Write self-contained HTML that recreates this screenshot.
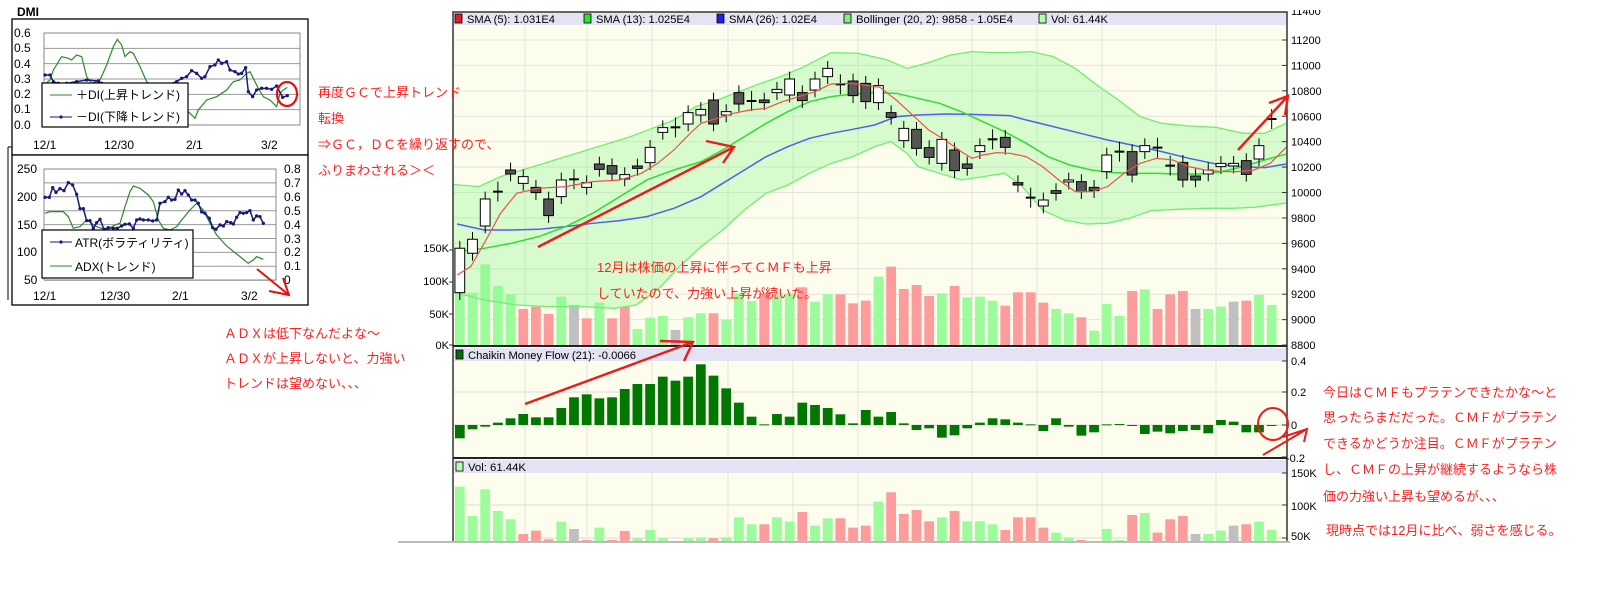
<!DOCTYPE html>
<html><head><meta charset="utf-8">
<style>
html,body{margin:0;padding:0;background:#fff;}
svg{display:block;font-family:"Liberation Sans","Noto Sans CJK JP",sans-serif;}
.r{fill:#ff2020;font-size:13px;}
.ax{font-size:11px;fill:#000;}
.dm{font-size:12px;fill:#000;}
</style></head>
<body>
<svg id="s" width="1602" height="595" viewBox="0 0 1602 595" xmlns="http://www.w3.org/2000/svg">
<defs>
<clipPath id="cm"><rect x="454" y="25" width="832" height="320"/></clipPath>
<clipPath id="cc"><rect x="454" y="361" width="832" height="96"/></clipPath>
<clipPath id="cv"><rect x="454" y="473" width="832" height="68"/></clipPath>
<clipPath id="ct"><rect x="1280" y="10" width="60" height="20"/></clipPath>
</defs>
<rect width="1602" height="595" fill="#fff"/>

<!-- ===== DMI panel ===== -->
<text x="17" y="16" style="font-size:12px;font-weight:bold">DMI</text>
<rect x="12" y="19" width="296" height="136" fill="#fff" stroke="#000" stroke-width="1.3"/>
<rect x="12" y="155" width="296" height="150" fill="#fff" stroke="#000" stroke-width="1.3"/>
<path d="M8,147 H12 M8,147 V300" stroke="#000" fill="none"/>
<g id="dmi"></g>
<g class="dm">
<text x="14" y="37">0.6</text><text x="14" y="52">0.5</text><text x="14" y="68">0.4</text><text x="14" y="83">0.3</text><text x="14" y="98">0.2</text><text x="14" y="113">0.1</text><text x="14" y="129">0.0</text>
<text x="33" y="149">12/1</text><text x="104" y="149">12/30</text><text x="186" y="149">2/1</text><text x="261" y="149">3/2</text>
<text x="17" y="173">250</text><text x="17" y="201">200</text><text x="17" y="229">150</text><text x="17" y="256">100</text><text x="24" y="284">50</text>
<text x="284" y="173">0.8</text><text x="284" y="187">0.7</text><text x="284" y="201">0.6</text><text x="284" y="215">0.5</text><text x="284" y="229">0.4</text><text x="284" y="243">0.3</text><text x="284" y="256">0.2</text><text x="284" y="270">0.1</text><text x="284" y="284">0</text>
<text x="33" y="300">12/1</text><text x="100" y="300">12/30</text><text x="172" y="300">2/1</text><text x="241" y="300">3/2</text>
</g>
<rect x="42" y="83" width="146" height="44" fill="#fff" stroke="#000" stroke-width="1.2"/>
<line x1="50" y1="95" x2="72" y2="95" stroke="#2a8a2a"/>
<text x="76" y="99" class="dm">＋DI(上昇トレンド)</text>
<line x1="50" y1="117" x2="72" y2="117" stroke="#1a1a7a"/><circle cx="61" cy="117" r="1.6" fill="#1a1a7a"/>
<text x="76" y="121" class="dm">－DI(下降トレンド)</text>
<rect x="42" y="230" width="151" height="48" fill="#fff" stroke="#000" stroke-width="1.2"/>
<line x1="50" y1="242" x2="72" y2="242" stroke="#1a1a7a"/><circle cx="61" cy="242" r="1.6" fill="#1a1a7a"/>
<text x="75" y="247" class="dm">ATR(ボラティリティ)</text>
<line x1="50" y1="266" x2="72" y2="266" stroke="#2a8a2a"/>
<text x="75" y="271" class="dm">ADX(トレンド)</text>
<ellipse cx="287" cy="94" rx="10" ry="12" fill="none" stroke="#e81010" stroke-width="2.2"/>
<path d="M257,269 L289,295 M269,291 L289,295 L283,278" stroke="#e81010" stroke-width="2" fill="none"/>

<text class="r" x="224" y="338">ＡＤＸは低下なんだよな～</text>
<text class="r" x="224" y="363">ＡＤＸが上昇しないと、力強い</text>
<text class="r" x="224" y="388">トレンドは望めない、、、</text>

<!-- ===== main chart ===== -->
<rect x="453" y="12" width="834" height="530" fill="#fdfdee"/>
<line x1="398" y1="542" x2="1290" y2="542" stroke="#bbb" stroke-width="2"/>
<rect x="454" y="13" width="832" height="12" fill="#e3e3f3"/>
<rect x="454" y="348" width="832" height="13" fill="#e3e3f3"/>
<rect x="454" y="460" width="832" height="13" fill="#e3e3f3"/>
<g id="grid"></g>
<g clip-path="url(#cm)"><g id="mainv" transform="translate(430,0) scale(0.5421,0.3333)"></g></g>
<g clip-path="url(#cm)"><g id="main" transform="translate(430,0) scale(0.5421,0.3333)"></g></g>
<g clip-path="url(#cc)"><g id="cmf" transform="translate(430,330) scale(0.5421,0.3333)"></g></g>
<g clip-path="url(#cv)"><g id="vol2" transform="translate(430,330) scale(0.5421,0.3333)"></g></g>
<path d="M453,541 V12 H1287 V541" fill="none" stroke="#333" stroke-width="1.5"/>
<line x1="453" y1="346" x2="1287" y2="346" stroke="#222" stroke-width="2"/>
<line x1="453" y1="458" x2="1287" y2="458" stroke="#222" stroke-width="2"/>
<g style="font-size:11px">
<rect x="455" y="14" width="7" height="9" fill="#e02020" stroke="#000" stroke-width="0.8"/>
<text x="467" y="23" textLength="88" lengthAdjust="spacingAndGlyphs">SMA (5): 1.031E4</text>
<rect x="584" y="14" width="7" height="9" fill="#30e030" stroke="#000" stroke-width="0.8"/>
<text x="596" y="23" textLength="94" lengthAdjust="spacingAndGlyphs">SMA (13): 1.025E4</text>
<rect x="717" y="14" width="7" height="9" fill="#2020e0" stroke="#000" stroke-width="0.8"/>
<text x="729" y="23" textLength="88" lengthAdjust="spacingAndGlyphs">SMA (26): 1.02E4</text>
<rect x="844" y="14" width="7" height="9" fill="#80f080" stroke="#000" stroke-width="0.8"/>
<text x="856" y="23" textLength="157" lengthAdjust="spacingAndGlyphs">Bollinger (20, 2): 9858 - 1.05E4</text>
<rect x="1039" y="14" width="7" height="9" fill="#b0ffb0" stroke="#000" stroke-width="0.8"/>
<text x="1051" y="23" textLength="57" lengthAdjust="spacingAndGlyphs">Vol: 61.44K</text>
<rect x="456" y="350" width="7" height="9" fill="#007000" stroke="#000" stroke-width="0.8"/>
<text x="468" y="359" textLength="168" lengthAdjust="spacingAndGlyphs">Chaikin Money Flow (21): -0.0066</text>
<rect x="456" y="462" width="7" height="9" fill="#b0ffb0" stroke="#000" stroke-width="0.8"/>
<text x="468" y="471" textLength="58" lengthAdjust="spacingAndGlyphs">Vol: 61.44K</text>
</g>
<g class="ax" id="rax"></g>
<g class="ax" text-anchor="end">
<text x="449" y="252">150K</text><text x="449" y="285">100K</text><text x="449" y="318">50K</text><text x="449" y="349">0K</text>
</g>
<g class="ax">
<text x="1291" y="365">0.4</text><text x="1291" y="396">0.2</text><text x="1291" y="429">0</text><text x="1286" y="462">-0.2</text>
<text x="1291" y="477">150K</text><text x="1291" y="510">100K</text><text x="1291" y="540">50K</text>
</g>
<!-- red notes over chart -->
<text class="r" x="318" y="97">再度ＧＣで上昇トレンド</text>
<text class="r" x="318" y="123">転換</text>
<text class="r" x="318" y="149">⇒ＧＣ，ＤＣを繰り返すので、</text>
<text class="r" x="318" y="175">ふりまわされる＞＜</text>
<text class="r" x="597" y="272">12月は株価の上昇に伴ってＣＭＦも上昇</text>
<text class="r" x="597" y="298">していたので、力強い上昇が続いた。</text>
<g stroke="#ee1a1a" stroke-width="2.4" fill="none">
<path d="M538,247 L734,147 M706,141 L734,147 L723,163"/>
<path d="M1238,150 L1288,96 M1269,103 L1288,96 L1285,115"/>
<path d="M525,404 L693,342 M660,341 L693,342 L684,361"/>
<ellipse cx="1273" cy="424" rx="15" ry="16" stroke-width="2"/>
<path d="M1263,455 L1307,429 M1283,437 L1307,429 L1304,442" stroke-width="2"/>
</g>
<text class="r" x="1323" y="397">今日はＣＭＦもプラテンできたかな～と</text>
<text class="r" x="1323" y="422">思ったらまだだった。ＣＭＦがプラテン</text>
<text class="r" x="1323" y="448">できるかどうか注目。ＣＭＦがプラテン</text>
<text class="r" x="1323" y="474">し、ＣＭＦの上昇が継続するようなら株</text>
<text class="r" x="1323" y="501">価の力強い上昇も望めるが、、、</text>
<text class="r" x="1326" y="535">現時点では12月に比べ、弱さを感じる。</text>

<script>
const NS="http://www.w3.org/2000/svg";
function el(p,t,a){const e=document.createElementNS(NS,t);for(const k in a)e.setAttribute(k,a[k]);p.appendChild(e);return e;}
const $=id=>document.getElementById(id);
const VE={"vector-effect":"non-scaling-stroke"};
function pl(p,pts,col,w){const a={points:pts.map(q=>q.join(",")).join(" "),fill:"none",stroke:col,"stroke-width":w};Object.assign(a,VE);return el(p,"polyline",a);}
const g=$("grid");
[525,587,652,728,793,858,972,1037,1102,1216].forEach(x=>{el(g,"line",{x1:x,y1:25,x2:x,y2:345,stroke:"#e2e2dc"});el(g,"line",{x1:x,y1:361,x2:x,y2:457,stroke:"#e2e2dc"});el(g,"line",{x1:x,y1:473,x2:x,y2:541,stroke:"#e2e2dc"});});
for(let i=0;i<12;i++){const y=40+i*25.42;el(g,"line",{x1:454,y1:y,x2:1286,y2:y,stroke:"#e2e2dc"});}
[392,425].forEach(y=>el(g,"line",{x1:454,y1:y,x2:1286,y2:y,stroke:"#dcdcd6"}));
[505,538].forEach(y=>el(g,"line",{x1:454,y1:y,x2:1286,y2:y,stroke:"#dcdcd6"}));
const ra=$("rax");
const lab=[11200,11000,10800,10600,10400,10200,10000,9800,9600,9400,9200,9000,8800];
lab.forEach((v,i)=>{const y=40+i*25.42;const t=el(ra,"text",{x:1291,y:y+4});t.textContent=v;el(ra,"line",{x1:1282,y1:y,x2:1287,y2:y,stroke:"#333"});});
{const t=el(ra,"text",{x:1291,y:15,"clip-path":"url(#ct)"});t.textContent="11400";}
[361,392,425,457,473,505,538].forEach(y=>el(ra,"line",{x1:1282,y1:y,x2:1287,y2:y,stroke:"#333"}));
[250,282,314,345].forEach(y=>el(ra,"line",{x1:449,y1:y,x2:453,y2:y,stroke:"#333"}));
const X=i=>55+i*23.4;
const COL={g:"#9cfc9c",p:"#fc9c9c",s:"#c0c0c0"};
const vm=[["g",880],["g",878],["g",793],["g",858],["g",883],["p",927],["p",920],["p",942],["g",890],["s",915],["p",955],["g",908],["p",955],["p",920],["g",987],["g",953],["g",948],["s",990],["g",952],["g",940],["p",940],["g",960],["g",880],["g",903],["p",880],["g",885],["g",880],["p",862],["g",905],["g",883],["p",883],["p",910],["p",902],["g",830],["p",800],["p",867],["p",855],["p",888],["g",880],["p",858],["g",892],["g",890],["g",902],["p",917],["p",877],["p",877],["p",908],["g",927],["g",940],["p",952],["g",992],["g",912],["g",948],["p",873],["g",868],["p",927],["p",883],["p",873],["s",927],["g",927],["g",920],["s",905],["p",902],["g",885],["g",915]];
const mv=$("mainv");
vm.forEach((v,i)=>el(mv,"rect",{x:X(i)-9,y:v[1],width:18,height:1040-v[1],fill:COL[v[0]]}));
const main=$("main");
const up=[[40,553],[90,560],[130,530],[170,510],[210,490],[250,470],[290,450],[330,430],[370,410],[410,385],[450,360],[490,320],[530,300],[570,275],[610,250],[650,228],[690,200],[740,158],[790,160],[840,178],[880,205],[920,188],[960,165],[1000,155],[1040,158],[1070,158],[1110,155],[1150,170],[1190,205],[1230,255],[1270,300],[1310,350],[1350,370],[1400,378],[1450,382],[1500,400],[1540,400],[1580,369]];
const lo=[[40,875],[100,900],[160,915],[220,920],[280,920],[340,925],[380,915],[420,870],[460,800],[500,740],[540,690],[580,630],[620,580],[660,555],[700,520],[740,490],[780,470],[820,440],[850,425],[880,460],[900,500],[940,520],[980,540],[1020,530],[1060,520],[1090,555],[1130,630],[1170,660],[1210,672],[1250,670],[1290,655],[1330,632],[1380,628],[1430,625],[1480,625],[1520,622],[1580,609]];
el(main,"polygon",{points:up.concat(lo.slice().reverse()).map(q=>q.join(",")).join(" "),fill:"rgba(140,250,140,0.33)",stroke:"none"});
pl(main,up,"#70ee70",1.3);pl(main,lo,"#70ee70",1.3);
const C=[["w",745,878],["w",718,760],["w",597,678],["c",575],["d",510,522],["w",530,550],["d",562,578],["d",597,647],["w",540,590],["c",538],["w",548,562],["d",492,508],["d",497,522],["w",524,537],["d",498,505],["w",442,488],["w",383,397],["c",382],["w",338,372],["w",328,345],["d",300,372],["w",335,345],["d",278,312],["c",303],["d",300,308],["w",268,278],["w",237,285],["d",278,302],["w",237,270],["w",205,230],["c",253],["d",243,287],["d",250,305],["w",257,308],["d",338,352],["w",385,422],["d",388,445],["d",443,472],["w",418,490],["d",450,512],["d",492,505],["w",437,455],["c",418],["d",412,442],["d",548,555],["c",593],["w",600,618],["d",572,580],["w",540,546],["d",545,575],["d",562,572],["w",465,515],["c",455],["d",455,525],["w",437,455],["c",443],["c",497],["d",487,540],["d",528,540],["w",510,522],["w",490,500],["w",490,498],["d",482,523],["w",437,477],["c",357]];
const red=[[50,825],[75,800],[100,730],[130,640],[160,580],[200,565],[250,560],[300,545],[350,540],[390,520],[420,490],[450,450],[480,400],[500,370],[530,355],[560,340],[590,330],[620,325],[650,305],[680,290],[710,275],[740,252],[770,250],[800,255],[830,262],[860,300],[890,345],[920,390],[950,420],[980,455],[1000,475],[1020,465],[1045,458],[1070,460],[1100,470],[1130,500],[1160,540],[1190,575],[1220,575],[1250,560],[1280,520],[1310,490],[1340,475],[1370,480],[1400,500],[1430,510],[1460,515],[1490,515],[1520,510],[1550,490],[1580,441]];
const grn=[[50,755],[100,745],[150,730],[200,710],[250,680],[300,640],[350,590],[400,540],[450,510],[500,485],[540,450],[580,410],[620,370],[660,335],[700,305],[740,290],[780,282],[820,278],[860,280],[900,295],[940,310],[980,335],[1020,365],[1060,395],[1100,430],[1140,470],[1180,495],[1220,510],[1260,518],[1300,520],[1340,520],[1380,522],[1420,522],[1460,515],[1500,500],[1540,480],[1580,462]];
const blu=[[50,672],[100,690],[150,690],[200,688],[250,680],[300,670],[350,662],[400,650],[450,625],[500,590],[540,550],[580,510],[620,470],[660,440],[700,415],[740,400],[780,388],[820,375],[860,350],[900,345],[950,342],[1000,343],[1070,347],[1100,360],[1150,380],[1200,400],[1250,420],[1300,437],[1350,455],[1400,475],[1450,492],[1500,500],[1540,503],[1580,492]];
pl(main,blu,"#5060e8",1.5);pl(main,grn,"#30dd30",1.5);
C.forEach((c,i)=>{const x=X(i);
 if(c[0]==="c"){el(main,"line",Object.assign({x1:x,y1:c[1]-30,x2:x,y2:c[1]+30,stroke:"#000","stroke-width":1},VE));el(main,"line",Object.assign({x1:x-9,y1:c[1],x2:x+9,y2:c[1],stroke:"#000","stroke-width":2},VE));return;}
 el(main,"line",Object.assign({x1:x,y1:c[1]-22,x2:x,y2:c[2]+22,stroke:"#000","stroke-width":1},VE));
 el(main,"rect",Object.assign({x:x-9,y:c[1],width:18,height:Math.max(c[2]-c[1],4),fill:c[0]==="w"?"#fff":"#555",stroke:"#000","stroke-width":1},VE));});
pl(main,red,"#ee5050",1.2);
const cm=[325,298,290,278,265,252,262,262,234,202,193,205,202,177,162,162,140,152,140,103,137,175,218,260,285,252,260,218,225,234,253,280,240,260,246,280,300,295,323,316,295,278,265,268,278,285,303,265,290,317,307,285,282,288,312,305,310,303,300,310,270,275,307,307,288];
const cg=$("cmf");
cm.forEach((v,i)=>{const y1=Math.min(v,285),h=Math.max(Math.abs(v-285),3);el(cg,"rect",{x:X(i)-9,y:v===285?283:y1,width:18,height:v===285?3:h,fill:"#007800"});});
const lv=[470,558,478,543,568,612,602,628,575,597,630,593,630,603,625,600,625,640,625,622,625,622,562,583,583,562,575,546,587,565,565,593,587,515,487,552,540,574,562,543,574,574,583,600,562,562,593,608,622,630,640,597,630,555,549,608,568,558,612,612,602,587,583,575,600];
const v2=$("vol2");
lv.forEach((v,i)=>el(v2,"rect",{x:X(i)-9,y:v,width:18,height:700-v,fill:COL[vm[i][0]]}));
const d=$("dmi");
const d1=el(d,"g",{});
for(let i=0;i<=6;i++){const y=33+i*15.33;el(d1,"line",{x1:44,y1:y,x2:300,y2:y,stroke:"#999"});}
el(d1,"rect",{x:44,y:33,width:256,height:92,fill:"none",stroke:"#888"});
for(let i=0;i<=8;i++){const y=169+i*13.9;el(d1,"line",{x1:44,y1:y,x2:276,y2:y,stroke:"#999"});}
el(d1,"rect",{x:44,y:169,width:232,height:111,fill:"none",stroke:"#888"});
const dg=el(d,"g",{transform:"scale(0.3333)"});
const pdi=[[132,255],[150,240],[160,210],[185,170],[205,175],[215,180],[230,165],[245,170],[260,230],[275,250],[300,240],[320,195],[340,140],[352,118],[365,135],[375,170],[390,155],[400,160],[420,200],[440,245],[460,265],[500,290],[530,310],[560,330],[585,355],[595,330],[620,300],[650,290],[680,270],[700,245],[720,240],[740,220],[750,215],[760,235],[775,265],[790,290],[810,300],[830,320],[840,280],[850,270],[862,262]];
const mdi=[[135,225],[150,225],[160,245],[175,250],[200,250],[230,245],[260,240],[295,243],[305,250],[340,255],[380,260],[420,262],[460,258],[500,255],[530,245],[545,235],[560,230],[575,212],[590,220],[605,235],[615,230],[630,200],[645,195],[655,180],[665,190],[680,185],[690,210],[705,215],[715,222],[725,220],[737,203],[745,275],[758,290],[770,270],[785,265],[800,265],[815,268],[830,258],[848,292],[862,287]];
const atr=[[135,592],[148,592],[158,563],[168,577],[180,566],[192,572],[205,548],[218,555],[230,583],[240,626],[250,626],[260,662],[270,662],[280,685],[290,668],[300,658],[312,688],[325,683],[340,685],[352,685],[365,678],[375,673],[388,672],[400,685],[410,660],[420,657],[430,660],[445,660],[458,663],[470,660],[480,610],[495,605],[505,592],[515,600],[525,598],[535,570],[545,582],[555,572],[565,585],[575,600],[585,600],[595,610],[605,636],[615,640],[628,655],[638,683],[648,688],[660,675],[670,678],[680,665],[692,668],[700,672],[710,652],[720,638],[730,640],[740,638],[750,632],[760,660],[770,648],[780,650],[790,670]];
const adx=[[135,640],[150,635],[190,635],[205,650],[220,685],[240,680],[260,660],[290,680],[320,690],[345,675],[360,670],[375,620],[390,575],[400,558],[420,565],[445,585],[460,605],[475,660],[490,685],[510,690],[530,680],[545,660],[570,630],[590,610],[610,630],[630,670],[650,705],[680,738],[720,770],[745,790],[760,780],[770,770],[790,778]];
pl(dg,pdi,"#2a8a2a",1.2);pl(dg,adx,"#2a8a2a",1.2);
pl(dg,mdi,"#1a1a7a",1.5);pl(dg,atr,"#1a1a7a",1.5);
mdi.concat(atr).forEach(p=>el(dg,"circle",{cx:p[0],cy:p[1],r:5,fill:"#1a1a7a"}));
</script>
</svg>
</body></html>
